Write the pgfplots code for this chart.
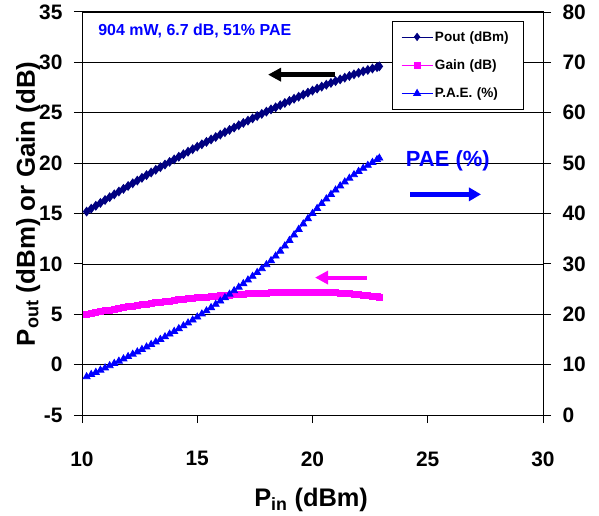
\documentclass[border=0pt]{standalone}
\usepackage{fontspec}
\setmainfont{Liberation Sans}
\usepackage{pgfplots}
\pgfplotsset{compat=1.18}
\usepackage{pgfplotstable}
\usetikzlibrary{arrows.meta}
\definecolor{navy}{RGB}{0,0,128}
\definecolor{pmag}{RGB}{255,0,255}
\definecolor{pblue}{RGB}{0,0,255}

\pgfplotstableread{
x pout gain pae
10.2 15.19 4.99 7.60
10.4 15.48 5.08 8.03
10.6 15.77 5.17 8.46
10.8 16.05 5.25 8.90
11.0 16.34 5.34 9.34
11.2 16.62 5.42 9.79
11.4 16.90 5.50 10.24
11.6 17.18 5.58 10.69
11.8 17.45 5.65 11.14
12.0 17.73 5.73 11.60
12.2 18.00 5.80 12.06
12.4 18.27 5.87 12.53
12.6 18.54 5.94 13.01
12.8 18.81 6.01 13.50
13.0 19.07 6.07 14.00
13.2 19.34 6.14 14.50
13.4 19.60 6.20 15.01
13.6 19.86 6.26 15.53
13.8 20.12 6.32 16.06
14.0 20.37 6.37 16.60
14.2 20.63 6.43 17.15
14.4 20.88 6.48 17.70
14.6 21.13 6.53 18.27
14.8 21.38 6.58 18.85
15.0 21.63 6.63 19.45
15.2 21.87 6.67 20.06
15.4 22.11 6.71 20.68
15.6 22.35 6.75 21.32
15.8 22.59 6.79 21.97
16.0 22.83 6.83 22.63
16.2 23.07 6.87 23.30
16.4 23.30 6.90 23.98
16.6 23.53 6.93 24.67
16.8 23.76 6.96 25.37
17.0 23.99 6.99 26.08
17.2 24.22 7.02 26.80
17.4 24.44 7.04 27.53
17.6 24.67 7.07 28.28
17.8 24.89 7.09 29.05
18.0 25.11 7.11 29.84
18.2 25.33 7.13 30.65
18.4 25.54 7.14 31.55
18.6 25.75 7.15 32.53
18.8 25.97 7.17 33.57
19.0 26.18 7.18 34.65
19.2 26.39 7.19 35.75
19.4 26.59 7.19 36.85
19.6 26.80 7.20 37.93
19.8 27.00 7.20 38.98
20.0 27.20 7.20 40.00
20.2 27.40 7.20 41.00
20.4 27.59 7.19 41.97
20.6 27.78 7.18 42.90
20.8 27.96 7.16 43.80
21.0 28.14 7.14 44.66
21.2 28.31 7.11 45.48
21.4 28.48 7.08 46.26
21.6 28.65 7.05 47.00
21.8 28.81 7.01 47.70
22.0 28.96 6.96 48.36
22.2 29.11 6.91 48.98
22.4 29.25 6.85 49.56
22.6 29.39 6.79 50.15
22.8 29.53 6.73 50.70
22.9 29.60 6.70 51.00
}\data

\pgfplotsset{
  common/.style={
    scale only axis, width=461bp, height=403bp,
    xmin=10, xmax=30,
    tick align=outside,
    major tick length=8bp,
    every tick/.style={black, line width=1bp},
    axis line style={line width=1bp, black},
    ticklabel style={font=\bfseries\fontsize{21}{24}\selectfont},
    clip=false,
  },
  legimg/.style={
    legend image code/.code={
      \draw[mark repeat=2, mark phase=2, ##1]
        plot coordinates {(0bp,0bp) (15.5bp,0bp) (31bp,0bp)};
    }
  }
}

\begin{document}
\begin{tikzpicture}
\path[use as bounding box] (-82bp,-101bp) rectangle (517bp,415bp);
\begin{axis}[
  common,
  ymin=-5, ymax=35,
  xtick={10,15,20,25,30}, xticklabels={10,15,20,25,30},
  ytick={-5,0,5,10,15,20,25,30,35},
  yticklabels={-5,0,5,10,15,20,25,30,35},
  xtick pos=lower, ytick pos=left,
  ymajorgrids, major grid style={black, line width=0.7bp},
  xticklabel style={yshift=-25bp},
  yticklabel style={xshift=-8bp},
]
\addplot[navy, line width=1bp, mark=diamond*, mark size=4.2bp,
  mark options={fill=navy, draw=navy}] table[x=x, y=pout]{\data};
\addplot[pmag, line width=0.8bp, mark=square*, mark size=3bp,
  mark options={fill=pmag, draw=pmag}] table[x=x, y=gain]{\data};
\draw[black, line width=4.5bp, -{Triangle[length=13bp, width=13bp]}]
  (axis cs:20.98,28.78) -- (axis cs:18.07,28.78);
\draw[pmag, line width=4bp, -{Triangle[length=13bp, width=13bp]}]
  (axis cs:22.36,8.64) -- (axis cs:20.11,8.64);
\draw[pblue, line width=4.5bp, -{Triangle[length=12bp, width=13bp]}]
  (axis cs:24.23,16.9) -- (axis cs:27.31,16.9);
\node[pblue, font=\bfseries\fontsize{22}{26}\selectfont, anchor=center]
  at (axis cs:25.87,20.2) {PAE (\%)};
\node[pblue, font=\bfseries\fontsize{16}{19}\selectfont, anchor=west, inner sep=0pt]
  at (axis cs:10.7,33.1) {904 mW, 6.7 dB, 51\% PAE};
\node[rotate=90, font=\bfseries\fontsize{26}{30}\selectfont, anchor=center]
  at (rel axis cs:-0.117,0.524) {P\textsubscript{out} (dBm) or Gain (dB)};
\node[font=\bfseries\fontsize{25.5}{30}\selectfont, anchor=center]
  at (rel axis cs:0.497,-0.21) {P\textsubscript{in} (dBm)};
\end{axis}
\begin{axis}[
  common,
  ymin=0, ymax=80,
  axis x line=none, axis y line*=right,
  ytick={0,10,20,30,40,50,60,70,80},
  yticklabels={0,10,20,30,40,50,60,70,80},
  yticklabel style={xshift=8bp},
  legimg,
  legend cell align=left,
  legend style={at={(0.672,0.978)}, anchor=north west,
    draw=black, line width=0.8bp, fill=white,
    font=\bfseries\fontsize{13.6}{16}\selectfont,
    inner xsep=9bp, inner ysep=8bp, row sep=13bp,
    /tikz/every even column/.append style={text width=77bp}},
]
\addlegendimage{navy, line width=0.8bp, mark=diamond*, mark size=3.6bp, mark options={fill=navy}}
\addlegendentry{Pout (dBm)}
\addlegendimage{pmag, line width=0.8bp, mark=square*, mark size=3bp, mark options={fill=pmag}}
\addlegendentry{Gain (dB)}
\addplot[pblue, line width=0.8bp, mark=triangle*, mark size=4bp,
  mark options={fill=pblue, draw=pblue}] table[x=x, y=pae]{\data};
\addlegendentry{P.A.E. (\%)}
\end{axis}
\end{tikzpicture}
\end{document}
